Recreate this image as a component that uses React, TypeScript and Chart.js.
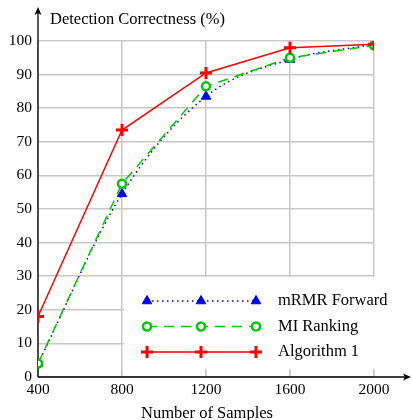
import React, { useEffect, useRef } from 'react';
import { Chart, registerables } from 'chart.js';
import { drawPoint } from 'chart.js/helpers';

Chart.register(...registerables);

const samples = [400, 800, 1200, 1600, 2000];
const mrmrForward = [4, 54.5, 83.5, 94.5, 99];
const miRanking = [4, 57.5, 86.5, 95, 98.7];
const algorithm1 = [18, 73.5, 90.5, 98, 99];
const xTicks = [400, 800, 1200, 1600, 2000];
const yTicks = [0, 10, 20, 30, 40, 50, 60, 70, 80, 90, 100];
const seriesNames = ['mRMR Forward', 'MI Ranking', 'Algorithm 1'];
const yTitle = 'Detection Correctness (%)';
const xTitle = 'Number of Samples';

const FONT_FAMILY = '"Liberation Serif", "DejaVu Serif", serif';
const GRID = '#c8c8c8';

const BLUE = '#0000ff';
const GREEN = '#00c800';
const RED = '#ff0000';

function arrow(ctx: CanvasRenderingContext2D, x: number, y: number, dir: 'up' | 'right') {
  ctx.beginPath();
  if (dir === 'up') {
    ctx.moveTo(x, y);
    ctx.lineTo(x - 3.5, y + 8);
    ctx.lineTo(x, y + 6);
    ctx.lineTo(x + 3.5, y + 8);
  } else {
    ctx.moveTo(x, y);
    ctx.lineTo(x - 8, y - 3.5);
    ctx.lineTo(x - 6, y);
    ctx.lineTo(x - 8, y + 3.5);
  }
  ctx.closePath();
  ctx.fill();
}

const decor = {
  id: 'decor',
  beforeDatasetsDraw(chart: any) {
    const { ctx, chartArea: a, scales } = chart;
    ctx.save();
    // legend background box
    const bx = scales.x.getPixelForValue(800) + 2;
    ctx.fillStyle = '#ffffff';
    ctx.fillRect(bx, a.bottom - 100, 400 - bx, 92);
    // small ticks
    ctx.strokeStyle = GRID;
    ctx.lineWidth = 1.5;
    for (const v of xTicks) {
      const x = scales.x.getPixelForValue(v);
      ctx.beginPath();
      ctx.moveTo(x, a.bottom);
      ctx.lineTo(x, a.bottom - 7);
      ctx.stroke();
    }
    // axes
    ctx.strokeStyle = '#000';
    ctx.fillStyle = '#000';
    ctx.lineWidth = 1.3;
    ctx.beginPath();
    ctx.moveTo(a.left, a.bottom);
    ctx.lineTo(chart.width - 4, a.bottom);
    ctx.stroke();
    arrow(ctx, chart.width - 1, a.bottom, 'right');
    ctx.beginPath();
    ctx.moveTo(a.left, a.bottom);
    ctx.lineTo(a.left, 12);
    ctx.stroke();
    arrow(ctx, a.left, 7, 'up');
    // titles
    ctx.font = `16.5px ${FONT_FAMILY}`;
    ctx.textBaseline = 'middle';
    ctx.textAlign = 'left';
    ctx.fillText(yTitle, a.left + 12, 20);
    ctx.textAlign = 'center';
    ctx.fillText(xTitle, (a.left + a.right) / 2 + 1, chart.height - 6);
    ctx.restore();
  },
  afterDatasetsDraw(chart: any) {
    const { ctx, chartArea: a } = chart;
    const order = [2, 1, 0]; // dataset indices for mRMR, MI, Algorithm 1
    const xs = [147, 201, 256];
    const y0 = a.bottom - 76;
    ctx.save();
    order.forEach((di, row) => {
      const ds = chart.data.datasets[di];
      const y = y0 + row * 25.5;
      ctx.strokeStyle = ds.borderColor;
      ctx.lineWidth = ds.borderWidth;
      ctx.setLineDash(ds.borderDash || []);
      ctx.beginPath();
      ctx.moveTo(xs[0], y);
      ctx.lineTo(xs[2], y);
      ctx.stroke();
      ctx.setLineDash([]);
      for (const x of xs) {
        ctx.strokeStyle = ds.pointBorderColor;
        ctx.fillStyle = ds.pointBackgroundColor;
        ctx.lineWidth = ds.pointBorderWidth;
        drawPoint(ctx, { pointStyle: ds.pointStyle, radius: ds.pointRadius, borderWidth: ds.pointBorderWidth, rotation: 0 }, x, y);
      }
      ctx.fillStyle = '#000';
      ctx.font = `16.5px ${FONT_FAMILY}`;
      ctx.textAlign = 'left';
      ctx.textBaseline = 'middle';
      ctx.fillText(ds.label, 278, y);
    });
    ctx.restore();
  },
};

export default function App() {
  const ref = useRef<HTMLCanvasElement | null>(null);
  useEffect(() => {
    if (!ref.current) return;
    const chart = new Chart(ref.current, {
      type: 'line',
      data: {
        datasets: [
          {
            label: seriesNames[2],
            data: samples.map((x, i) => ({ x, y: algorithm1[i] })),
            borderColor: RED,
            borderWidth: 1.5,
            pointStyle: 'cross',
            pointRadius: 6,
            pointBorderWidth: 3,
            pointBorderColor: RED,
            pointBackgroundColor: RED,
            tension: 0,
          },
          {
            label: seriesNames[1],
            data: samples.map((x, i) => ({ x, y: miRanking[i] })),
            borderColor: GREEN,
            borderWidth: 1.5,
            borderDash: [10, 7],
            pointStyle: 'circle',
            pointRadius: 4,
            pointBorderWidth: 2.5,
            pointBorderColor: GREEN,
            pointBackgroundColor: '#ffffff',
            tension: 0,
          },
          {
            label: seriesNames[0],
            data: samples.map((x, i) => ({ x, y: mrmrForward[i] })),
            borderColor: BLUE,
            borderWidth: 1.5,
            borderDash: [1.5, 3.5],
            pointStyle: 'triangle',
            pointRadius: 5.5,
            pointBorderWidth: 1,
            pointBorderColor: BLUE,
            pointBackgroundColor: BLUE,
            cubicInterpolationMode: 'monotone',
          },
        ] as any,
      },
      options: {
        responsive: false,
        animation: false,
        devicePixelRatio: 1,
        layout: { padding: { top: 41, right: 38, left: 0, bottom: 0 } },
        plugins: { legend: { display: false }, tooltip: { enabled: false } },
        scales: {
          x: {
            type: 'linear',
            min: 400,
            max: 2000,
            afterBuildTicks: (s: any) => { s.ticks = xTicks.map((v) => ({ value: v })); },
            afterFit: (s: any) => { s.height = 43; },
            grid: { color: GRID, lineWidth: 1.5, drawTicks: false },
            border: { display: false },
            ticks: { padding: 4, color: '#000', maxRotation: 0, font: { family: FONT_FAMILY, size: 15.5 }, callback: (v: any) => String(v) },
          },
          y: {
            type: 'linear',
            min: 0,
            max: 100,
            afterBuildTicks: (s: any) => { s.ticks = yTicks.map((v) => ({ value: v })); },
            afterFit: (s: any) => { s.width = 38; },
            grid: { color: GRID, lineWidth: 1.5, drawTicks: false },
            border: { display: false },
            ticks: { padding: 6, color: '#000', font: { family: FONT_FAMILY, size: 15.5 }, callback: (v: any) => String(v) },
          },
        },
      },
      plugins: [decor],
    });
    return () => chart.destroy();
  }, []);
  return (
    <div style={{ position: 'absolute', left: 0, top: 0, width: 412, height: 420, background: '#fff' }}>
      <canvas ref={ref} width={412} height={420} />
    </div>
  );
}
